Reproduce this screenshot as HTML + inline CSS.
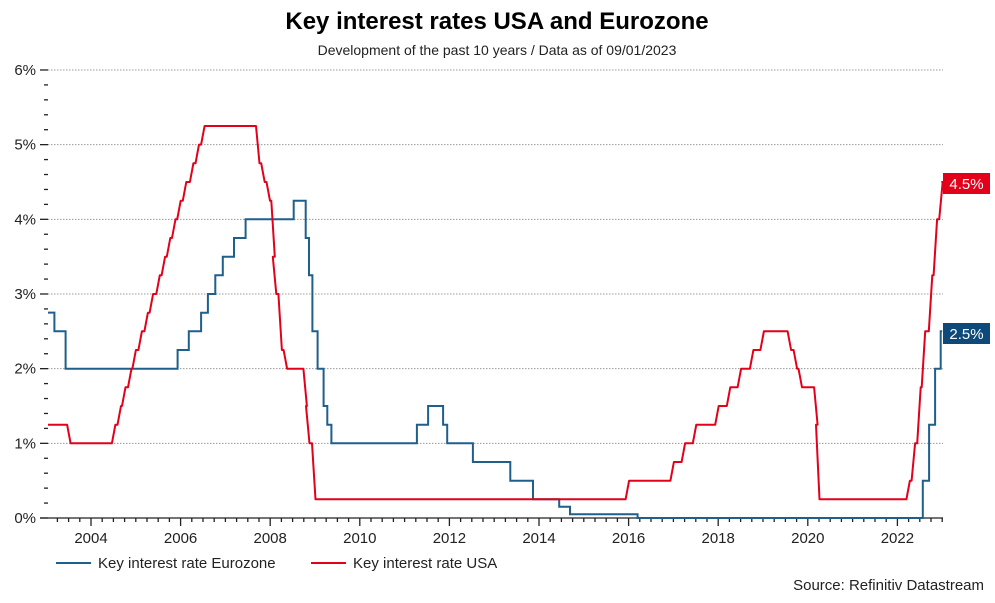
<!DOCTYPE html>
<html><head><meta charset="utf-8"><style>
body{margin:0;background:#fff;width:995px;height:598px;overflow:hidden;font-family:"Liberation Sans",Arial,sans-serif}
</style></head><body>
<svg id="s" width="995" height="598" xmlns="http://www.w3.org/2000/svg" font-family="Liberation Sans, Arial, sans-serif">
<text x="497" y="29" text-anchor="middle" font-size="24" font-weight="bold" fill="#000">Key interest rates USA and Eurozone</text>
<text x="497" y="55" text-anchor="middle" font-size="14" fill="#222">Development of the past 10 years / Data as of 09/01/2023</text>
<g id="grid"></g>
<g id="series"></g>
<rect x="943" y="173" width="47" height="21" fill="#e2001a"/>
<text x="966.5" y="189" text-anchor="middle" font-size="15" fill="#fff">4.5%</text>
<rect x="943" y="323" width="47" height="21" fill="#0d4a7a"/>
<text x="966.5" y="339" text-anchor="middle" font-size="15" fill="#fff">2.5%</text>
<line x1="56" y1="563" x2="91" y2="563" stroke="#1f5f8b" stroke-width="2"/>
<text x="98" y="568" font-size="15" fill="#222">Key interest rate Eurozone</text>
<line x1="311" y1="563" x2="346" y2="563" stroke="#e2001a" stroke-width="2"/>
<text x="353" y="568" font-size="15" fill="#222">Key interest rate USA</text>
<text x="984" y="590" text-anchor="end" font-size="15" fill="#222">Source: Refinitiv Datastream</text>
</svg>
<script>
function X(t){return 91+(t-2004)*44.8;}
function Y(v){return 518-v*74.67;}
var g=document.getElementById('grid'),h='';
for(var i=0;i<=6;i++){var y=Y(i);
 h+='<text x="36" y="'+(y+5)+'" text-anchor="end" font-size="15" fill="#222">'+i+'%</text>';
 h+='<line x1="40" y1="'+y+'" x2="48" y2="'+y+'" stroke="#222" stroke-width="1.3"/>';
 if(i>0)h+='<line x1="48" y1="'+y+'" x2="943" y2="'+y+'" stroke="#999" stroke-width="1" stroke-dasharray="1.5,1.5"/>';
 if(i<6)for(var k=1;k<5;k++){var yy=Y(i+k*0.2);h+='<line x1="44" y1="'+yy+'" x2="48" y2="'+yy+'" stroke="#222" stroke-width="1.3"/>';}
}
h+='<line x1="40" y1="518" x2="943" y2="518" stroke="#222" stroke-width="1.3"/>';
for(var t=2003.25;t<2023.1;t+=0.25){var x=X(t);var maj=Math.abs(t-Math.round(t))<0.01&&Math.round(t)%2==0;
 h+='<line x1="'+x+'" y1="518" x2="'+x+'" y2="'+(maj?526:522)+'" stroke="#222" stroke-width="1.3"/>';
 if(maj)h+='<text x="'+x+'" y="543" text-anchor="middle" font-size="15" fill="#222">'+Math.round(t)+'</text>';}
g.innerHTML=h;
function d(y,m){return y+(m-1)/12;}
var ez=[[2003.04,2.75],[d(2003,3.2),2.5],[d(2003,6.2),2.0],[d(2005,12.2),2.25],[d(2006,3.2),2.5],[d(2006,6.5),2.75],[d(2006,8.3),3.0],[d(2006,10.3),3.25],[d(2006,12.3),3.5],[d(2007,3.3),3.75],[d(2007,6.4),4.0],[d(2008,7.3),4.25],[d(2008,10.5),3.75],[d(2008,11.4),3.25],[d(2008,12.3),2.5],[d(2009,1.7),2.0],[d(2009,3.3),1.5],[d(2009,4.3),1.25],[d(2009,5.4),1.0],[d(2011,4.3),1.25],[d(2011,7.3),1.5],[d(2011,11.3),1.25],[d(2011,12.4),1.0],[d(2012,7.3),0.75],[d(2013,5.3),0.5],[d(2013,11.4),0.25],[d(2014,6.4),0.15],[d(2014,9.3),0.05],[d(2016,3.4),0.0],[d(2022,7.8),0.5],[d(2022,9.5),1.25],[d(2022,11.1),2.0],[d(2022,12.6),2.5]];
var p='M'+X(ez[0][0])+','+Y(ez[0][1]);
for(var i=1;i<ez.length;i++){p+=' H'+X(ez[i][0]).toFixed(1)+' V'+Y(ez[i][1]).toFixed(1);}
p+=' H'+X(2023.0);
var us=[[2003.04,1.25],[d(2003,7),1.0],[d(2004,7),1.25],[d(2004,8.5),1.5],[d(2004,9.7),1.75],[d(2004,11.3),2.0],[d(2004,12.5),2.25],[d(2005,2.1),2.5],[d(2005,3.7),2.75],[d(2005,5.1),3.0],[d(2005,6.9),3.25],[d(2005,8.3),3.5],[d(2005,9.7),3.75],[d(2005,11.1),4.0],[d(2005,12.5),4.25],[d(2006,2),4.5],[d(2006,3.9),4.75],[d(2006,5.4),5.0],[d(2006,6.9),5.25],[d(2007,9.6),4.75],[d(2007,11),4.5],[d(2007,12.4),4.25],[d(2008,1.7),3.5],[d(2008,2.1),3.0],[d(2008,3.6),2.25],[d(2008,5),2.0],[d(2008,10.3),1.5],[d(2008,11),1.0],[d(2008,12.6),0.25],[d(2015,12.6),0.5],[d(2016,12.6),0.75],[d(2017,3.6),1.0],[d(2017,6.6),1.25],[d(2017,12.6),1.5],[d(2018,3.7),1.75],[d(2018,6.6),2.0],[d(2018,9.9),2.25],[d(2018,12.7),2.5],[d(2019,8),2.25],[d(2019,9.6),2.0],[d(2019,10.9),1.75],[d(2020,3.1),1.25],[d(2020,3.6),0.25],[d(2022,3.8),0.5],[d(2022,5.2),1.0],[d(2022,6.7),1.75],[d(2022,7.9),2.5],[d(2022,9.8),3.25],[d(2022,11.1),4.0],[d(2022,12.6),4.5]];
var q='M'+X(us[0][0]).toFixed(1)+','+Y(us[0][1]).toFixed(1);
for(var i=1;i<us.length;i++){var t0=us[i][0];
 q+=' L'+(X(t0)-1.5).toFixed(1)+','+Y(us[i-1][1]).toFixed(1)+' L'+(X(t0)+2).toFixed(1)+','+Y(us[i][1]).toFixed(1);}
q+=' L'+X(2022.98)+','+Y(4.5);
document.getElementById('series').innerHTML='<path d="'+p+'" fill="none" stroke="#1f5f8b" stroke-width="2"/><path d="'+q+'" fill="none" stroke="#e2001a" stroke-width="2" stroke-linejoin="round"/>';
</script>
</body></html>
